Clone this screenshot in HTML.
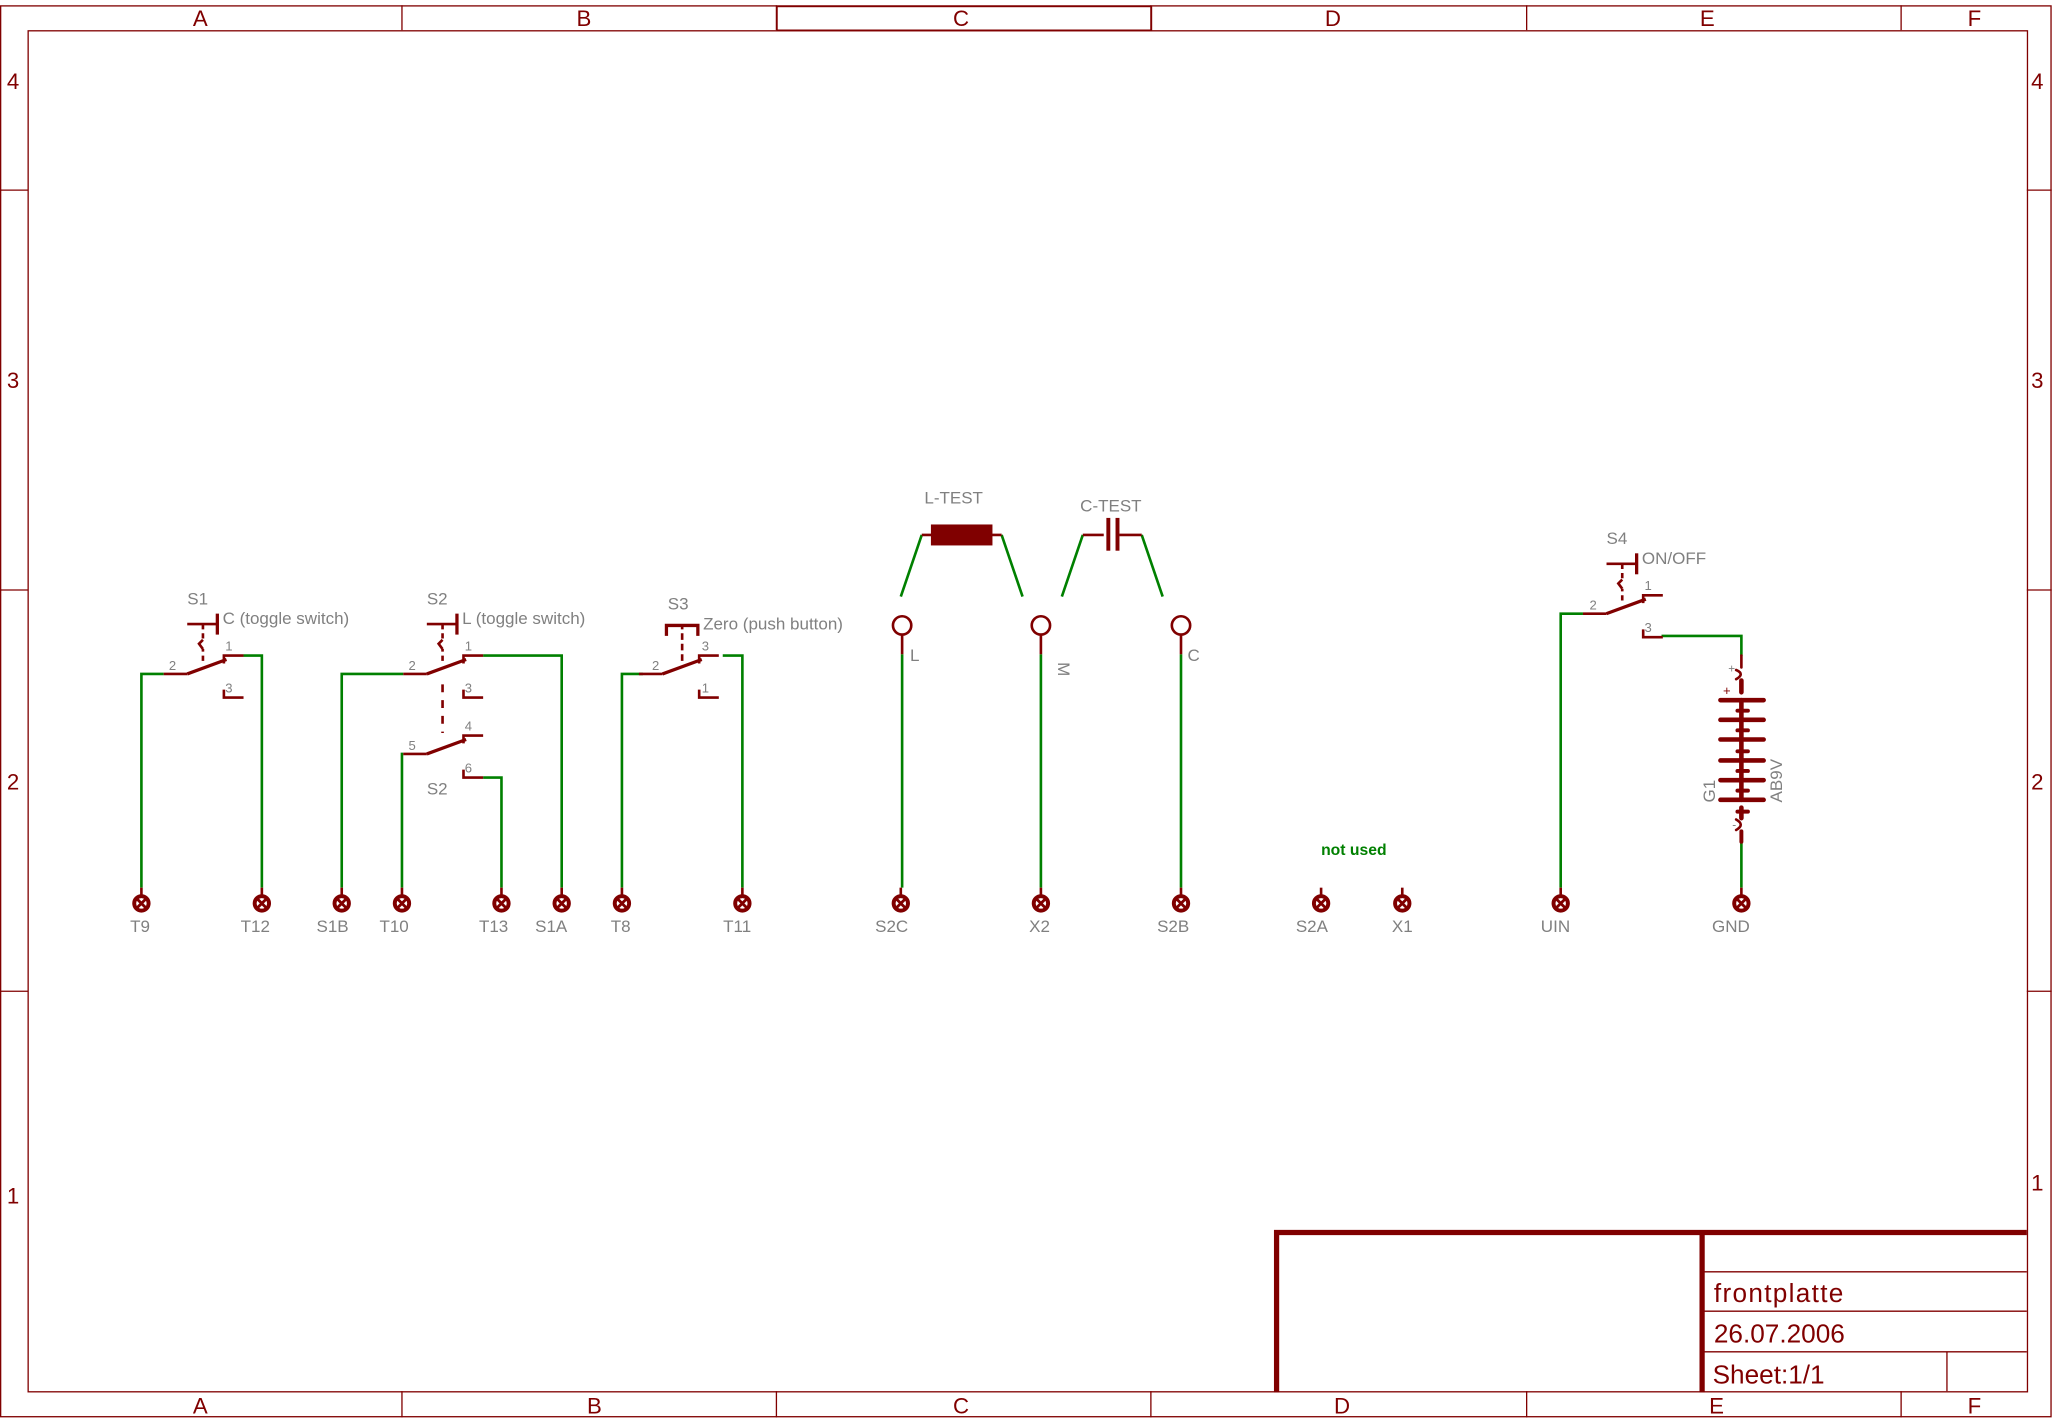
<!DOCTYPE html>
<html><head><meta charset="utf-8"><style>
html,body{margin:0;padding:0;background:#fff;}
svg{display:block;}
text{font-family:"Liberation Sans",sans-serif;}
</style></head><body>
<svg width="2053" height="1420" viewBox="0 0 1568 1083" preserveAspectRatio="none" xmlns="http://www.w3.org/2000/svg">
<defs>
<g id="pin"><line x1="0" y1="-12" x2="0" y2="-5" stroke="#800000" stroke-width="2"/><circle cx="0" cy="0" r="5.5" fill="none" stroke="#800000" stroke-width="3"/><path d="M-4,-4L4,4M-4,4L4,-4" stroke="#800000" stroke-width="2.2"/></g>
<g id="sw">
<line x1="-18" y1="0" x2="0" y2="0" stroke="#800000" stroke-width="2"/>
<line x1="0" y1="0" x2="30" y2="-11" stroke="#800000" stroke-width="2.5"/>
<path d="M28,-8L28,-14L43,-14" fill="none" stroke="#800000" stroke-width="2"/>
<path d="M28,12L28,18L43,18" fill="none" stroke="#800000" stroke-width="2"/>
</g>
<g id="tog">
<line x1="12" y1="-10" x2="12" y2="-19" stroke="#800000" stroke-width="2" stroke-dasharray="4,3"/>
<path d="M12,-19L9,-23L12,-26" fill="none" stroke="#800000" stroke-width="2"/>
<line x1="12" y1="-27" x2="12" y2="-38" stroke="#800000" stroke-width="2" stroke-dasharray="4,3"/>
<line x1="0" y1="-38" x2="23" y2="-38" stroke="#800000" stroke-width="2"/>
<line x1="23" y1="-46" x2="23" y2="-30" stroke="#800000" stroke-width="2.5"/>
</g>
</defs>
<g fill="none" stroke="#800000" stroke-width="1">
<rect x="0.5" y="4.5" width="1566" height="1076"/>
<rect x="21.5" y="23.5" width="1527" height="1038"/>
<path d="M307,4V23M593,4V23M879,4V23M1166,4V23M1452,4V23M307,1061V1081M593,1061V1081M879,1061V1081M1166,1061V1081M1452,1061V1081M0,145H21M0,450H21M0,756H21M1548,145H1567M1548,450H1567M1548,756H1567"/>
<rect x="593.5" y="5" width="286" height="18"/>
<path d="M1300,970H1548M1300,1000H1548M1300,1031H1548M1487,1031V1061"/>
</g>
<path d="M975,1062V940H1548M1300,940V1062" fill="none" stroke="#800000" stroke-width="4"/>
<g fill="#800000" font-size="17" text-anchor="middle">
<text x="153" y="20">A</text><text x="446" y="20">B</text><text x="734" y="20">C</text><text x="1018" y="20">D</text><text x="1304" y="20">E</text><text x="1508" y="20">F</text>
<text x="153" y="1078">A</text><text x="454" y="1078">B</text><text x="734" y="1078">C</text><text x="1025" y="1078">D</text><text x="1311" y="1078">E</text><text x="1508" y="1078">F</text>
<text x="10" y="68">4</text><text x="10" y="296">3</text><text x="10" y="602">2</text><text x="10" y="918">1</text>
<text x="1556" y="68">4</text><text x="1556" y="296">3</text><text x="1556" y="602">2</text><text x="1556" y="908">1</text>
</g>
<g fill="#800000" font-family="Liberation Mono,monospace" font-size="20">
<text x="1309" y="993" letter-spacing="1">frontplatte</text>
<text x="1309" y="1024">26.07.2006</text>
<text x="1308" y="1055">Sheet:1/1</text>
</g>
<g fill="none" stroke="#008000" stroke-width="2">
<path d="M108,677V514H125M186,500H200V677"/>
<path d="M261,677V514H308M369,500H429V677"/>
<path d="M307,677V575H308M369,593H383V677"/>
<path d="M475,677V514H491M552,500H567V677"/>
<path d="M1192,677V468H1209M1269,485H1330V500M1330,642V677"/>
<path d="M688,455L704,408M765,408L781,455M811,455L827,408M872,408L888,455"/>
<path d="M689,499V677M795,499V677M902,499V677"/>
</g>
<g transform="translate(143,514)"><use href="#sw"/><use href="#tog"/></g>
<g transform="translate(326,514)"><use href="#sw"/><use href="#tog"/><line x1="12" y1="8" x2="12" y2="45" stroke="#800000" stroke-width="2" stroke-dasharray="6,6"/></g>
<g transform="translate(326,575)"><use href="#sw"/></g>
<g transform="translate(506,514)"><use href="#sw"/>
<line x1="15" y1="-10" x2="15" y2="-37" stroke="#800000" stroke-width="2" stroke-dasharray="5,3"/>
<path d="M3,-29V-37H27V-29" fill="none" stroke="#800000" stroke-width="2.5"/></g>
<g transform="translate(1227,468)"><use href="#sw"/><use href="#tog"/></g>
<g fill="#808080" font-size="10">
<text x="129" y="511">2</text><text x="172" y="496">1</text><text x="172" y="528">3</text>
<text x="312" y="511">2</text><text x="355" y="496">1</text><text x="355" y="528">3</text>
<text x="312" y="572">5</text><text x="355" y="557">4</text><text x="355" y="589">6</text>
<text x="498" y="511">2</text><text x="536" y="496">3</text><text x="536" y="528">1</text>
<text x="1214" y="465">2</text><text x="1256" y="450">1</text><text x="1256" y="482">3</text>
</g>
<g fill="#808080" font-size="13">
<text x="143" y="461">S1</text><text x="170" y="476">C (toggle switch)</text>
<text x="326" y="461">S2</text><text x="353" y="476">L (toggle switch)</text>
<text x="326" y="606">S2</text>
<text x="510" y="465">S3</text><text x="537" y="480">Zero (push button)</text>
<text x="1227" y="415">S4</text><text x="1254" y="430">ON/OFF</text>
<text x="706" y="384">L-TEST</text><text x="825" y="390">C-TEST</text>
<text x="695" y="504">L</text><text x="907" y="504">C</text>
<text transform="translate(808,505) rotate(90)">M</text>
<text transform="translate(1310,612) rotate(-90)">G1</text>
<text transform="translate(1361,612) rotate(-90)">AB9V</text>
</g>
<text x="1009" y="652" fill="#008000" font-size="12" font-weight="bold">not used</text>
<g stroke="#800000" stroke-width="2" fill="none">
<path d="M704,408H765M827,408H843M855,408H872"/>
<circle cx="689" cy="477" r="7"/><circle cx="795" cy="477" r="7"/><circle cx="902" cy="477" r="7"/>
<path d="M689,484V499M795,484V499M902,484V499"/>
</g>
<rect x="711" y="400" width="47" height="16" fill="#800000"/>
<rect x="845" y="395" width="3" height="25" fill="#800000"/><rect x="852" y="395" width="3" height="25" fill="#800000"/>
<g stroke="#800000" fill="none" stroke-linecap="round">
<path d="M1330,500V509" stroke-width="2"/>
<path d="M1326,511Q1333,514 1326,518" stroke-width="2"/>
<path d="M1330,519V528M1330,534V610M1330,616V624" stroke-width="3.5"/>
<path d="M1314,534H1347M1314,549H1347M1314,564H1347M1314,580H1347M1314,595H1347M1314,610H1347" stroke-width="3.5"/>
<path d="M1327,542H1335M1327,557H1335M1327,573H1335M1327,588H1335M1327,603H1335M1327,619H1335" stroke-width="3"/>
<path d="M1326,625Q1333,629 1326,633" stroke-width="2"/>
<path d="M1330,634V642" stroke-width="3"/>
</g>
<text x="1320" y="513" fill="#808080" font-size="9">+</text>
<text x="1316" y="530" fill="#800000" font-size="10">+</text>
<text x="1323" y="632" fill="#808080" font-size="9">-</text>
<g>
<use href="#pin" x="108" y="689"/><use href="#pin" x="200" y="689"/><use href="#pin" x="261" y="689"/>
<use href="#pin" x="307" y="689"/><use href="#pin" x="383" y="689"/><use href="#pin" x="429" y="689"/>
<use href="#pin" x="475" y="689"/><use href="#pin" x="567" y="689"/><use href="#pin" x="688" y="689"/>
<use href="#pin" x="795" y="689"/><use href="#pin" x="902" y="689"/><use href="#pin" x="1009" y="689"/>
<use href="#pin" x="1071" y="689"/><use href="#pin" x="1192" y="689"/><use href="#pin" x="1330" y="689"/>
</g>
<g fill="#808080" font-size="13" text-anchor="middle">
<text x="107" y="711">T9</text><text x="195" y="711">T12</text><text x="254" y="711">S1B</text>
<text x="301" y="711">T10</text><text x="377" y="711">T13</text><text x="421" y="711">S1A</text>
<text x="474" y="711">T8</text><text x="563" y="711">T11</text><text x="681" y="711">S2C</text>
<text x="794" y="711">X2</text><text x="896" y="711">S2B</text><text x="1002" y="711">S2A</text>
<text x="1071" y="711">X1</text><text x="1188" y="711">UIN</text><text x="1322" y="711">GND</text>
</g>
</svg>
</body></html>
